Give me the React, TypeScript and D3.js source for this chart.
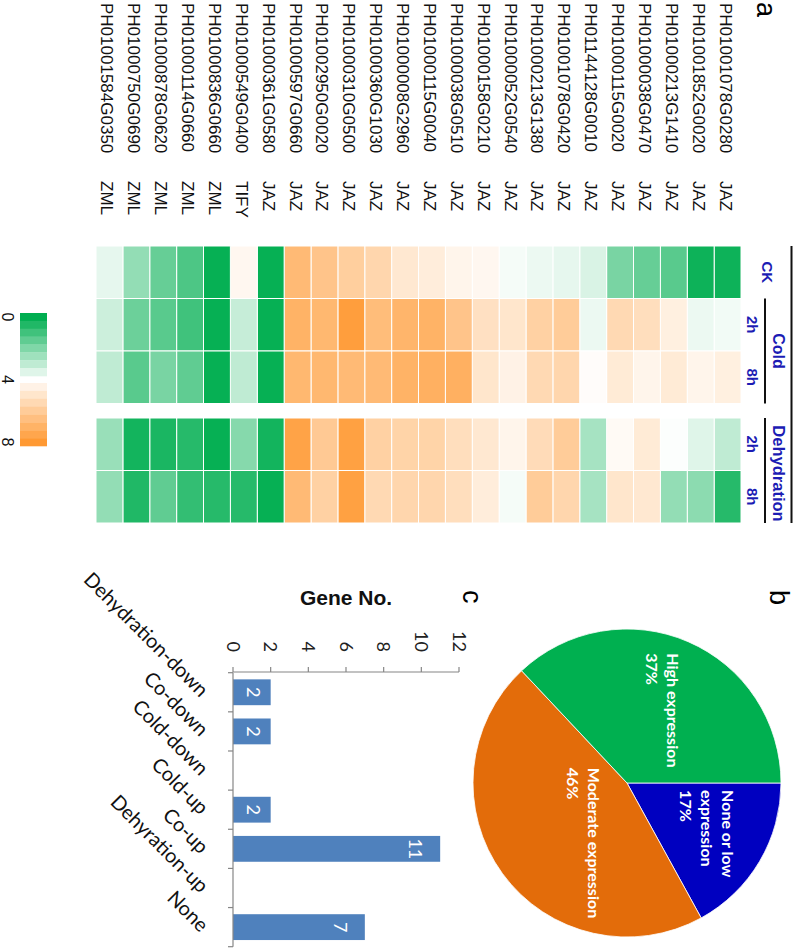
import * as d3 from "d3";

// heatmap rows (top to bottom in the upright figure)
const genes = [
  "PH01001078G0280", "PH01001852G0020", "PH01000213G1410", "PH01000038G0470",
  "PH01000115G0020", "PH01144128G0010", "PH01001078G0420", "PH01000213G1380",
  "PH01000052G0540", "PH01000158G0210", "PH01000038G0510", "PH01000115G0040",
  "PH01000008G2960", "PH01000360G1030", "PH01000310G0500", "PH01002950G0020",
  "PH01000597G0660", "PH01000361G0580", "PH01000549G0400", "PH01000836G0660",
  "PH01000114G0660", "PH01000878G0620", "PH01000750G0690", "PH01001584G0350",
];
const families = [
  "JAZ", "JAZ", "JAZ", "JAZ", "JAZ", "JAZ", "JAZ", "JAZ", "JAZ", "JAZ", "JAZ", "JAZ",
  "JAZ", "JAZ", "JAZ", "JAZ", "JAZ", "JAZ", "TIFY", "ZML", "ZML", "ZML", "ZML", "ZML",
];
const ckValues = [0.2, 0.2, 1.4, 1.6, 1.9, 3.4, 3.6, 3.7, 3.85, 4.3, 4.4, 4.7, 4.9, 5.6, 5.9, 6.3, 6.7, 0.1, 4.3, 0.1, 1.2, 1.6, 2.3, 3.6];
const cold2hValues = [3.8, 3.7, 4.6, 5.3, 5.5, 3.7, 6.0, 5.8, 5.0, 5.2, 6.3, 7.0, 6.9, 6.6, 7.8, 6.8, 7.0, 0.1, 3.1, 0.1, 1.0, 1.4, 1.7, 3.2];
const cold8hValues = [4.6, 4.4, 4.8, 4.4, 4.8, 4.1, 5.6, 5.5, 4.5, 5.0, 7.1, 7.1, 7.0, 6.7, 6.7, 6.8, 6.8, 0.1, 3.0, 0.1, 1.5, 1.9, 1.4, 3.0];
const dehy2hValues = [3.0, 3.5, 3.95, 4.8, 4.2, 2.6, 6.0, 5.4, 4.4, 4.9, 5.3, 5.7, 5.7, 5.8, 7.7, 6.1, 7.6, 0.3, 2.1, 0.1, 0.6, 0.4, 0.3, 2.4];
const dehy8hValues = [0.6, 2.2, 2.3, 4.9, 5.0, 2.6, 5.6, 6.0, 3.85, 4.7, 5.3, 5.6, 5.6, 5.5, 7.7, 5.8, 6.7, 0.1, 0.6, 0.6, 0.8, 1.5, 0.5, 2.3];
const legendTicks = [0, 4, 8];

// pie (b)
const pieNames = [["None or low", "expression"], ["Moderate expression"], ["High expression"]];
const piePercents = [17, 46, 37];
const pieColors = ["#0000C0", "#E36C0A", "#00B050"];

// bars (c)
const barCategories = ["Dehydration-down", "Co-down", "Cold-down", "Cold-up", "Co-up", "Dehyration-up", "None"];
const barCounts = [2, 2, 0, 2, 11, 0, 7];
const barTicks = [0, 2, 4, 6, 8, 10, 12];

const ARIAL = "'Liberation Sans', Arial, sans-serif";
const CAL = "Lato, 'Liberation Sans', sans-serif";
const BLUE = "#1c1cb4";

export default function App() {
  const color = d3.scaleLinear<string>()
    .domain([0, 4, 8])
    .range(["#00AE50", "#ffffff", "#FF9933"])
    .interpolate(d3.interpolateRgb);

  // ---- heatmap (a)
  const rowY = d3.scaleBand().domain(genes).range([53, 698]);
  const coldX = d3.scaleBand().domain(["CK", "Cold 2h", "Cold 8h"]).range([246, 403.5]);
  const dehyX = d3.scaleBand().domain(["Dehydration 2h", "Dehydration 8h"]).range([418, 523]);
  const columns = [
    { key: "CK", head: "CK", x: coldX, values: ckValues },
    { key: "Cold 2h", head: "2h", x: coldX, values: cold2hValues },
    { key: "Cold 8h", head: "8h", x: coldX, values: cold8hValues },
    { key: "Dehydration 2h", head: "2h", x: dehyX, values: dehy2hValues },
    { key: "Dehydration 8h", head: "8h", x: dehyX, values: dehy8hValues },
  ];

  // legend: stepped bands
  const greenSteps = d3.range(0, 4, 0.5);
  const orangeSteps = d3.range(4.5, 8.01, 0.5);
  const greenBand = d3.scaleBand<number>().domain(greenSteps).range([313, 376]);
  const orangeBand = d3.scaleBand<number>().domain(orangeSteps).range([383, 446]);
  const legendPos = (t: number) =>
    t === 0 ? greenBand(0)! + greenBand.bandwidth() / 2
      : t === 8 ? orangeBand(8)! + orangeBand.bandwidth() / 2
      : (376 + 383) / 2;

  // ---- pie (b)
  const pcx = 783, pcy = 167, pr = 154;
  const arcs = d3.pie<number>().sort(null).value((d) => d)(piePercents);
  const arc = d3.arc<d3.PieArcDatum<number>>().innerRadius(0).outerRadius(pr);
  const labelArc = d3.arc<d3.PieArcDatum<number>>().innerRadius(pr * 0.55).outerRadius(pr * 0.55);
  const labelNudge = [[-36, -22], [-65, -30], [-52, -6]];

  // ---- bars (c)
  const yV = d3.scaleLinear().domain([0, 12]).range([561, 335]);
  const xC = d3.scaleBand().domain(barCategories).range([672.7, 946.7]).paddingInner(0.34).paddingOuter(0.17);
  const step = xC.step();
  const x0 = xC.range()[0];

  return (
    <svg width={794} height={948} style={{ position: "absolute", left: 0, top: 0, background: "#fff" }}>
      <g transform="translate(794,0) rotate(90)">
        {/* panel letters */}
        <text x={2} y={37} fontFamily={ARIAL} fontSize={27}>a</text>
        <text x={590} y={24} fontFamily={ARIAL} fontSize={27}>b</text>
        <text x={590} y={331} fontFamily={ARIAL} fontSize={27}>c</text>

        {/* gene labels */}
        {genes.map((g, i) => (
          <g key={g}>
            <text x={3} y={rowY(g)! + rowY.bandwidth() / 2} dy="0.47em" fontFamily={ARIAL} fontSize={17} fill="#111">{g}</text>
            <text x={181} y={rowY(g)! + rowY.bandwidth() / 2} dy="0.47em" fontFamily={ARIAL} fontSize={17} fill="#111">{families[i]}</text>
          </g>
        ))}

        {/* cells */}
        {columns.map((c) =>
          c.values.map((v, i) => (
            <rect key={c.key + i} x={c.x(c.key)} y={rowY(genes[i])} width={c.x.bandwidth()} height={rowY.bandwidth()}
              fill={color(v)} stroke="#fff" strokeWidth={1} />
          ))
        )}

        {/* column headers */}
        <line x1={246} x2={523} y1={2.5} y2={2.5} stroke="#111" strokeWidth={2} />
        <line x1={coldX("Cold 2h")} x2={coldX.range()[1]} y1={29} y2={29} stroke="#111" strokeWidth={2} />
        <line x1={dehyX.range()[0]} x2={dehyX.range()[1]} y1={29} y2={29} stroke="#111" strokeWidth={2} />
        <text x={(coldX("Cold 2h")! + coldX.range()[1]) / 2} y={21} textAnchor="middle" fontFamily={ARIAL} fontWeight="bold" fontSize={16} fill={BLUE}>Cold</text>
        <text x={(dehyX.range()[0] + dehyX.range()[1]) / 2 + 3} y={21} textAnchor="middle" fontFamily={ARIAL} fontWeight="bold" fontSize={16.5} fill={BLUE}>Dehydration</text>
        {columns.map((c) => (
          <text key={"h" + c.key} x={c.x(c.key)! + c.x.bandwidth() / 2} y={c.head === "CK" ? 32 : 47} textAnchor="middle"
            fontFamily={ARIAL} fontWeight="bold" fontSize={15} fill={BLUE}>{c.head}</text>
        ))}

        {/* legend */}
        {greenSteps.map((s) => (
          <rect key={"g" + s} x={greenBand(s)} y={747} width={greenBand.bandwidth() + 0.3} height={27} fill={color(s)} />
        ))}
        {orangeSteps.map((s) => (
          <rect key={"o" + s} x={orangeBand(s)} y={747} width={orangeBand.bandwidth() + 0.3} height={27} fill={color(s)} />
        ))}
        {legendTicks.map((t) => (
          <text key={"lt" + t} x={legendPos(t)} y={792} textAnchor="middle" fontFamily={ARIAL} fontSize={16} fill="#111">{t}</text>
        ))}

        {/* pie */}
        <g transform={`translate(${pcx},${pcy})`}>
          {arcs.map((a, i) => (
            <path key={"p" + i} d={arc(a)!} fill={pieColors[i]} stroke="#fff" strokeWidth={0.8} />
          ))}
          {arcs.map((a, i) => {
            const [cx, cy] = labelArc.centroid(a);
            const lx = cx + labelNudge[i][0];
            const ly = cy + labelNudge[i][1];
            const lines = [...pieNames[i], `${piePercents[i]}%`];
            return (
              <text key={"pl" + i} x={lx} y={ly} fontFamily={CAL} fontWeight="bold" fontSize={16} fill="#fff">
                {lines.map((l, j) => (
                  <tspan key={j} x={lx} dy={j === 0 ? 0 : 21}>{l}</tspan>
                ))}
              </text>
            );
          })}
        </g>

        {/* bar chart */}
        <text transform={`translate(605,${(yV(0) + yV(12)) / 2}) rotate(-90)`} textAnchor="middle"
          fontFamily={ARIAL} fontWeight="bold" fontSize={21} fill="#111">Gene No.</text>
        <line x1={672} x2={672} y1={yV(0)} y2={yV(12)} stroke="#868686" strokeWidth={1.2} />
        {barTicks.map((t) => (
          <g key={"bt" + t}>
            <line x1={667} x2={672} y1={yV(t)} y2={yV(t)} stroke="#868686" strokeWidth={1.2} />
            <text x={652} y={yV(t)} dy="0.36em" textAnchor="end" fontFamily={CAL} fontSize={18} fill="#222">{t}</text>
          </g>
        ))}
        {barCategories.map((c, i) => (
          <rect key={"b" + c} x={xC(c)} y={yV(barCounts[i])} width={xC.bandwidth()} height={yV(0) - yV(barCounts[i])} fill="#4F81BD" />
        ))}
        {barCategories.map((c, i) =>
          barCounts[i] > 0 ? (
            <text key={"bv" + c} x={xC(c)! + xC.bandwidth() / 2} y={Math.min(yV(barCounts[i]) + 31, yV(0) - 14)}
              textAnchor="middle" fontFamily={CAL} fontSize={18} fill="#fff">{barCounts[i]}</text>
          ) : null
        )}
        <line x1={x0} x2={x0 + step * barCategories.length} y1={yV(0)} y2={yV(0)} stroke="#868686" strokeWidth={1.2} />
        {d3.range(barCategories.length + 1).map((k) => (
          <line key={"ct" + k} x1={x0 + k * step} x2={x0 + k * step} y1={yV(0)} y2={yV(0) + 5} stroke="#868686" strokeWidth={1.2} />
        ))}
        {barCategories.map((c) => (
          <text key={"cl" + c} transform={`translate(${xC(c)! + xC.bandwidth() / 2 + 6},${yV(0) + 33}) rotate(-45)`}
            textAnchor="end" fontFamily={CAL} fontSize={20} fill="#111">{c}</text>
        ))}
      </g>
    </svg>
  );
}
